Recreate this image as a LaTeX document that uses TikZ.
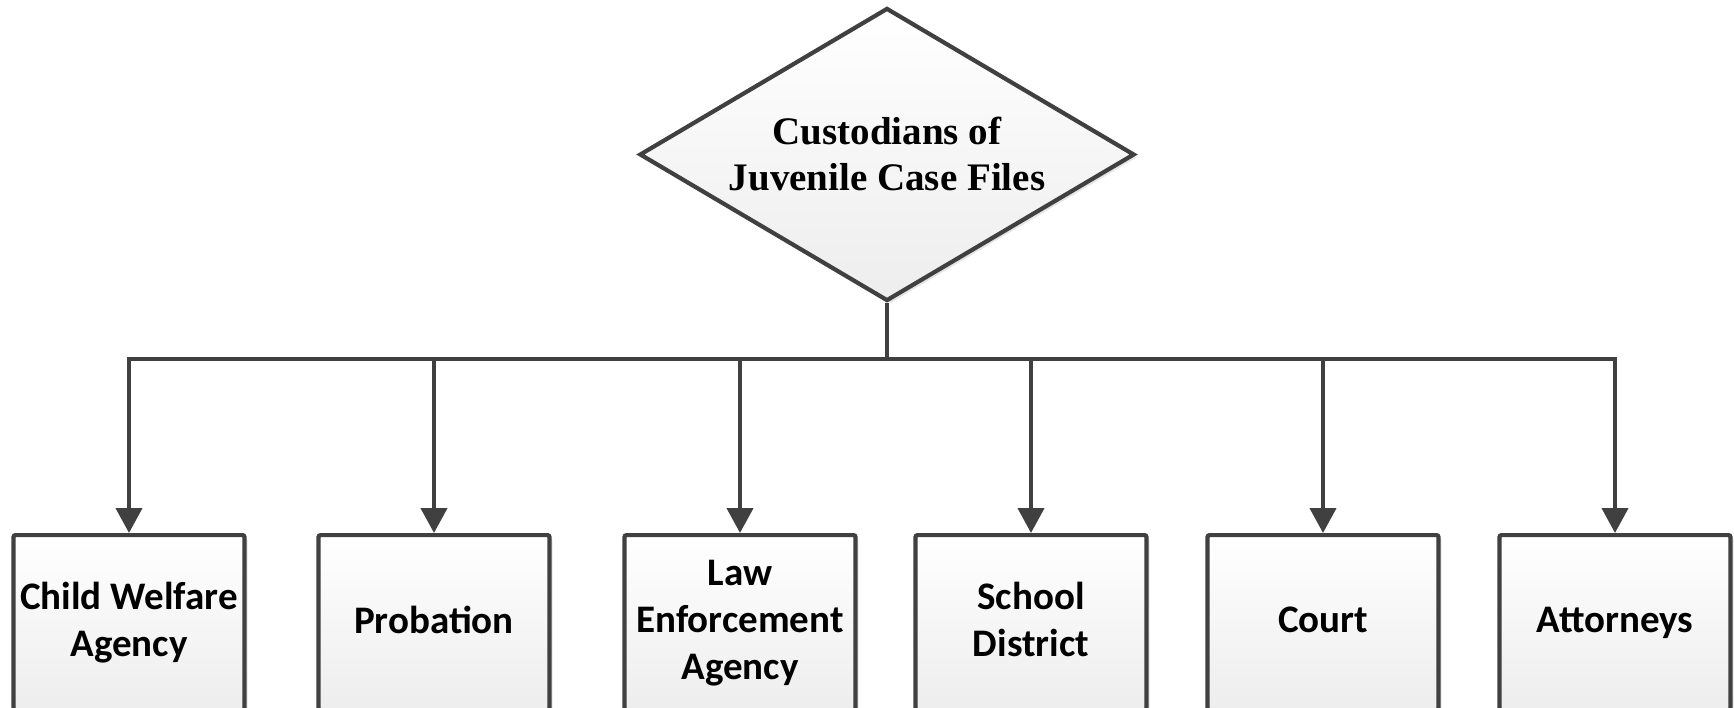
\documentclass[tikz,border=0pt]{standalone}
\usepackage{fontspec}
\setmainfont{Liberation Serif}
\newfontfamily\boxfont{Carlito}
\usetikzlibrary{shapes.geometric,arrows.meta,shadows}
\definecolor{edgegray}{HTML}{404040}
\begin{document}
\begin{tikzpicture}[x=1pt,y=-1pt,
  base/.style={draw=edgegray, line width=4.2pt, top color=white, bottom color=black!7,
    drop shadow={shadow xshift=3pt, shadow yshift=-3pt, opacity=0.25, fill=black!40}},
  decision/.style={base, diamond, aspect=1.72, minimum width=495pt, minimum height=293pt,
    inner sep=0pt, align=center, font={\bfseries\fontsize{39}{46}\selectfont}},
  unit/.style={base, rectangle, rounded corners=2pt, minimum width=231pt, minimum height=175pt,
    anchor=north, align=center, inner sep=0pt, text depth=6pt,
    font={\boxfont\bfseries\fontsize{39}{47}\selectfont}},
  conn/.style={draw=edgegray, line width=4.2pt, -{Triangle[length=25pt,width=26pt]}}]
\clip (0,0) rectangle (1734,707);
\node[decision] (top) at (887,154.5) {Custodians of\\Juvenile Case Files};
\coordinate (bus) at (0,359);
\node[unit] (b1) at (129,533) {Child Welfare\\Agency};
\node[unit] (b2) at (434,533) {Probation};
\node[unit] (b3) at (740,533) {Law\\Enforcement\\Agency};
\node[unit] (b4) at (1031,533) {School\\District};
\node[unit] (b5) at (1323,533) {Court};
\node[unit] (b6) at (1615,533) {Attorneys};
\foreach \b in {b1,b2,b3,b4,b5,b6}
  \draw[conn] (top.south) -- (top.south |- bus) -| (\b.north);
\end{tikzpicture}
\end{document}
